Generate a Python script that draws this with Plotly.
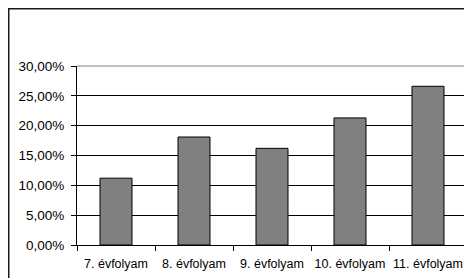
import plotly.graph_objects as go

categories = ["7. évfolyam", "8. évfolyam", "9. évfolyam", "10. évfolyam", "11. évfolyam"]
values = [0.112, 0.181, 0.162, 0.213, 0.266]
y_tick_vals = [0, 0.05, 0.10, 0.15, 0.20, 0.25, 0.30]
y_tick_text = ["0,00%", "5,00%", "10,00%", "15,00%", "20,00%", "25,00%", "30,00%"]

W, H = 464, 270
L, R, T, B = 69, 5, 58, 33
PW, PH = W - L - R, H - T - B

fig = go.Figure()
fig.add_trace(go.Bar(
    x=list(range(len(categories))), y=values,
    marker=dict(color="#808080", line=dict(color="#000000", width=1)),
    width=0.41,
))

fig.update_layout(
    width=W, height=H,
    margin=dict(l=L, r=R, t=T, b=B, autoexpand=False),
    paper_bgcolor="white", plot_bgcolor="white",
    showlegend=False,
    font=dict(family="Liberation Sans, Arial, sans-serif", color="black"),
    xaxis=dict(
        range=[-0.5, 4.5],
        tickvals=list(range(len(categories))), ticktext=categories,
        tickfont=dict(size=12.5),
        ticklabelstandoff=7,
        showgrid=False, zeroline=False,
        showline=True, linecolor="black", linewidth=1,
        ticks="",
        minor=dict(tickvals=[-0.5, 0.5, 1.5, 2.5, 3.5, 4.5], ticks="outside", ticklen=5, tickcolor="black", showgrid=False),
        fixedrange=True, automargin=False,
    ),
    yaxis=dict(
        range=[0, 0.30],
        tickvals=y_tick_vals, ticktext=y_tick_text,
        tickfont=dict(size=13.5),
        ticklabelstandoff=4,
        showgrid=True, gridcolor="black", gridwidth=1,
        zeroline=False,
        showline=True, linecolor="black", linewidth=1,
        ticks="outside", ticklen=5, tickcolor="black",
        fixedrange=True, automargin=False,
    ),
    shapes=[
        dict(type="line", xref="x domain", yref="y domain", x0=0, x1=1, y0=1, y1=1,
             line=dict(color="#808080", width=1)),
        dict(type="line", xref="x domain", yref="y domain", x0=1, x1=1, y0=0, y1=1,
             line=dict(color="#808080", width=1)),
        dict(type="rect", xref="paper", yref="paper",
             x0=(-L + 0.5) / PW, x1=(PW + R + 20) / PW,
             y0=(-B - 20) / PH, y1=(PH + T - 0.5) / PH,
             line=dict(color="#1a1a1a", width=2), fillcolor="rgba(0,0,0,0)"),
    ],
)

fig.write_html("out.html")
